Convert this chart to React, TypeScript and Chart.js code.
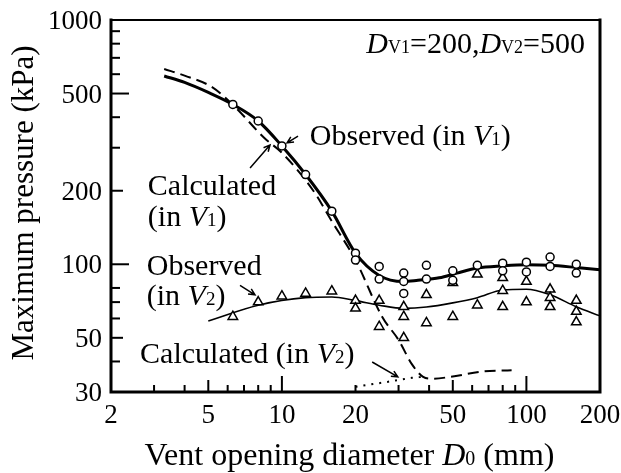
import React, { useEffect, useRef } from "react";
import { Chart, registerables } from "chart.js";

Chart.register(...registerables);

const FONT = "'Liberation Serif', 'Times New Roman', serif";

// ---- axis ticks ----
const xTickLabels = [2, 5, 10, 20, 50, 100, 200];
const yTickLabels = [30, 50, 100, 200, 500, 1000];
const xMinorTicks = [3, 4, 6, 7, 8, 9, 20, 30, 40, 60, 70, 80, 90];
const xMediumTicks = [5, 50];
const xLongTicks = [10, 100];
const yMinorTicks = [40, 60, 70, 80, 300, 400, 600, 700, 800, 900];
const yMediumTicks = [50, 200];
const yLongTicks = [100, 500];

// ---- observed in V1 (circles) ----
const obsV1Diameter = [6.3, 8, 10, 12.5, 16, 20, 20, 25, 25, 31.5, 31.5, 31.5, 39, 39, 50, 50, 63, 80, 80, 100, 100, 125, 125, 160, 160];
const obsV1Pressure = [451, 386, 305, 233, 165, 111, 104, 98, 87, 92, 85, 76, 99, 87, 94, 86, 99, 101, 94, 102, 93, 107, 98, 100, 92];

// ---- observed in V2 (triangles) ----
const obsV2Diameter = [6.3, 8, 10, 12.5, 16, 20, 20, 25, 25, 31.5, 31.5, 31.5, 39, 39, 50, 50, 63, 63, 80, 80, 80, 100, 100, 125, 125, 125, 160, 160, 160];
const obsV2Pressure = [61, 70, 74, 76, 77.6, 71, 66, 71, 55.5, 67, 61, 50, 75, 57.5, 61, 84, 68, 91, 78, 67, 88, 70, 85, 79, 73, 67, 71, 64, 58];

// ---- fitted curve through V1 data (thick solid) ----
const fitV1Diameter = [3.3, 4, 5, 6.3, 8, 10, 12.5, 16, 20, 25, 31.5, 36, 44, 52, 63, 80, 100, 125, 160, 200];
const fitV1Pressure = [590, 555, 505, 451, 386, 305, 233, 165, 111, 90, 85, 86, 88, 92, 96.5, 98.5, 99.5, 99, 97, 95];

// ---- fitted curve through V2 data (thin solid) ----
const fitV2Diameter = [5, 8, 12.5, 16, 20, 25, 31.5, 39, 50, 63, 80, 100, 125, 160, 200];
const fitV2Pressure = [58.6, 68, 73, 73.5, 71, 68, 66, 66.8, 69.5, 73, 78.5, 79, 75, 67, 61.5];

// ---- calculated in V1 (dashed) ----
const calcV1Diameter = [3.3, 4, 5.2, 6.3, 8.5, 10, 13.4, 16, 20, 25.7, 30, 34, 37.8, 41, 49, 66, 87];
const calcV1Pressure = [630, 592, 530, 450, 328, 286, 201, 150, 104, 61, 49, 39, 34.6, 34, 34.6, 36.4, 36.8];

// ---- calculated in V2 (dotted) ----
const calcV2Diameter = [20, 23, 27, 31, 34, 37.8];
const calcV2Pressure = [31.5, 32.2, 33, 33.8, 34.3, 34.6];

// ---- texts ----
const xTitleText = "Vent opening diameter ";
const yTitleText = "Maximum pressure (kPa)";

type Seg = { t: string; s: number; i?: boolean };

const headerSegs: Seg[] = [
  { t: "D", s: 30, i: true }, { t: "V1", s: 18 }, { t: "=200,", s: 30 },
  { t: "D", s: 30, i: true }, { t: "V2", s: 18 }, { t: "=500", s: 30 },
];
const obsV1Segs: Seg[] = [{ t: "Observed (in ", s: 30 }, { t: "V", s: 30, i: true }, { t: "1", s: 19 }, { t: ")", s: 30 }];
const calcV1Line1: Seg[] = [{ t: "Calculated", s: 30 }];
const calcV1Line2: Seg[] = [{ t: "(in ", s: 30 }, { t: "V", s: 30, i: true }, { t: "1", s: 19 }, { t: ")", s: 30 }];
const obsV2Line1: Seg[] = [{ t: "Observed", s: 30 }];
const obsV2Line2: Seg[] = [{ t: "(in ", s: 30 }, { t: "V", s: 30, i: true }, { t: "2", s: 19 }, { t: ")", s: 30 }];
const calcV2Segs: Seg[] = [{ t: "Calculated (in ", s: 30 }, { t: "V", s: 30, i: true }, { t: "2", s: 19 }, { t: ")", s: 30 }];

// note anchors in data units (diameter, pressure) – left / baseline
const noteList: { segs: Seg[]; d: number; p: number; align: string }[] = [
  { segs: headerSegs, d: 173.6, p: 733, align: "right" },
  { segs: obsV1Segs, d: 13.0, p: 308, align: "left" },
  { segs: calcV1Line1, d: 2.83, p: 192, align: "left" },
  { segs: calcV1Line2, d: 2.83, p: 144, align: "left" },
  { segs: obsV2Line1, d: 2.8, p: 90.2, align: "left" },
  { segs: obsV2Line2, d: 2.8, p: 68.3, align: "left" },
  { segs: calcV2Segs, d: 2.63, p: 39.5, align: "left" },
];

// arrows: from (d1,p1) to (d2,p2)
const arrowFromD = [11.64, 7.41, 6.74, 23.4];
const arrowFromP = [335, 248, 82, 39.8];
const arrowToD = [10.5, 8.94, 7.76, 29.8];
const arrowToP = [314, 308, 75, 34.6];

const fontOf = (s: Seg) => `${s.i ? "italic " : ""}${s.s}px ${FONT}`;

function drawSegs(ctx: CanvasRenderingContext2D, segs: Seg[], x: number, y: number, align: string) {
  let total = 0;
  for (const s of segs) {
    ctx.font = fontOf(s);
    total += ctx.measureText(s.t).width;
  }
  let cx = align === "right" ? x - total : align === "center" ? x - total / 2 : x;
  ctx.textAlign = "left";
  ctx.textBaseline = "alphabetic";
  for (const s of segs) {
    ctx.font = fontOf(s);
    ctx.fillText(s.t, cx, y);
    cx += ctx.measureText(s.t).width;
  }
}

const zip = (xs: number[], ys: number[]) => xs.map((x, i) => ({ x, y: ys[i] }));

const decorPlugin = {
  id: "decor",
  afterDatasetsDraw(chart: any) {
    const ctx: CanvasRenderingContext2D = chart.ctx;
    const { left, right, top, bottom } = chart.chartArea;
    const xs = chart.scales.x;
    const ys = chart.scales.y;
    ctx.save();
    ctx.strokeStyle = "#000";
    ctx.fillStyle = "#000";

    // frame
    ctx.lineCap = "square";
    ctx.lineWidth = 2;
    ctx.beginPath();
    ctx.moveTo(left, top);
    ctx.lineTo(right, top);
    ctx.stroke();
    ctx.lineWidth = 3;
    ctx.beginPath();
    ctx.moveTo(right, top);
    ctx.lineTo(right, bottom);
    ctx.moveTo(left, top);
    ctx.lineTo(left, bottom);
    ctx.lineTo(right, bottom);
    ctx.stroke();

    // ticks (inward)
    ctx.lineCap = "butt";
    ctx.lineWidth = 2;
    const xt = (vals: number[], len: number) => {
      for (const v of vals) {
        const px = xs.getPixelForValue(v);
        ctx.beginPath();
        ctx.moveTo(px, bottom);
        ctx.lineTo(px, bottom - len);
        ctx.stroke();
      }
    };
    const yt = (vals: number[], len: number) => {
      for (const v of vals) {
        const py = ys.getPixelForValue(v);
        ctx.beginPath();
        ctx.moveTo(left, py);
        ctx.lineTo(left + len, py);
        ctx.stroke();
      }
    };
    xt(xMinorTicks, 7);
    xt(xMediumTicks, 12);
    xt(xLongTicks, 16);
    yt(yMinorTicks, 9);
    yt(yMediumTicks, 12);
    yt(yLongTicks, 18);

    // tick labels
    ctx.font = `27px ${FONT}`;
    ctx.textBaseline = "alphabetic";
    ctx.textAlign = "center";
    for (const v of xTickLabels) {
      ctx.fillText(String(v), xs.getPixelForValue(v), bottom + 31);
    }
    ctx.textAlign = "right";
    for (const v of yTickLabels) {
      ctx.fillText(String(v), left - 9, ys.getPixelForValue(v) + 9);
    }

    // x title
    drawSegs(
      ctx,
      [
        { t: xTitleText, s: 32 },
        { t: "D", s: 32, i: true },
        { t: "0", s: 20 },
        { t: " (mm)", s: 32 },
      ],
      (left + right) / 2 - 6,
      bottom + 73,
      "center"
    );

    // y title
    ctx.save();
    ctx.translate(left - 78, (top + bottom) / 2 - 3);
    ctx.rotate(-Math.PI / 2);
    ctx.font = `31px ${FONT}`;
    ctx.textAlign = "center";
    ctx.textBaseline = "alphabetic";
    ctx.fillText(yTitleText, 0, 0);
    ctx.restore();

    // notes
    for (const n of noteList) {
      drawSegs(ctx, n.segs, xs.getPixelForValue(n.d), ys.getPixelForValue(n.p), n.align);
    }

    // arrows
    ctx.lineWidth = 1.5;
    for (let i = 0; i < arrowFromD.length; i++) {
      const x1 = xs.getPixelForValue(arrowFromD[i]);
      const y1 = ys.getPixelForValue(arrowFromP[i]);
      const x2 = xs.getPixelForValue(arrowToD[i]);
      const y2 = ys.getPixelForValue(arrowToP[i]);
      const a = Math.atan2(y2 - y1, x2 - x1);
      ctx.beginPath();
      ctx.moveTo(x1, y1);
      ctx.lineTo(x2, y2);
      const h = 7;
      ctx.moveTo(x2 - h * Math.cos(a - 0.45), y2 - h * Math.sin(a - 0.45));
      ctx.lineTo(x2, y2);
      ctx.lineTo(x2 - h * Math.cos(a + 0.45), y2 - h * Math.sin(a + 0.45));
      ctx.stroke();
    }
    ctx.restore();
  },
};

export default function App() {
  const ref = useRef<HTMLCanvasElement | null>(null);
  useEffect(() => {
    document.body.style.margin = "0";
    const canvas = ref.current;
    if (!canvas) return;
    const lineCommon = { pointRadius: 0, borderColor: "#000", fill: false, cubicInterpolationMode: "monotone" as const, showLine: true };
    const chart = new Chart(canvas, {
      type: "line",
      data: {
        datasets: [
          {
            label: "Observed (in V1)",
            data: zip(obsV1Diameter, obsV1Pressure),
            showLine: false,
            pointStyle: "circle",
            pointRadius: 4,
            pointBorderWidth: 1.5,
            pointBorderColor: "#000",
            pointBackgroundColor: "#fff",
            order: 0,
          },
          {
            label: "Observed (in V2)",
            data: zip(obsV2Diameter, obsV2Pressure),
            showLine: false,
            pointStyle: "triangle",
            pointRadius: 5.5,
            pointBorderWidth: 1.5,
            pointBorderColor: "#000",
            pointBackgroundColor: "#fff",
            order: 0,
          },
          { label: "fit V1", data: zip(fitV1Diameter, fitV1Pressure), borderWidth: 3, order: 1, ...lineCommon },
          { label: "fit V2", data: zip(fitV2Diameter, fitV2Pressure), borderWidth: 1.6, order: 1, ...lineCommon },
          { label: "Calculated (in V1)", data: zip(calcV1Diameter, calcV1Pressure), borderWidth: 2, borderDash: [11, 6], order: 1, ...lineCommon },
          { label: "Calculated (in V2)", data: zip(calcV2Diameter, calcV2Pressure), borderWidth: 2, borderDash: [2, 6], order: 1, ...lineCommon },
        ],
      },
      options: {
        animation: false,
        responsive: false,
        devicePixelRatio: 1,
        layout: { padding: { left: 111, right: 21, top: 20, bottom: 81 } },
        plugins: { legend: { display: false }, tooltip: { enabled: false } },
        scales: {
          x: { type: "logarithmic", min: 2, max: 200, display: false },
          y: { type: "logarithmic", min: 30, max: 1000, display: false },
        },
      },
      plugins: [decorPlugin],
    });
    return () => chart.destroy();
  }, []);
  return (
    <div style={{ position: "fixed", left: 0, top: 0, width: 621, height: 473, background: "#fff" }}>
      <canvas ref={ref} width={621} height={473} style={{ width: 621, height: 473, display: "block" }} />
    </div>
  );
}
